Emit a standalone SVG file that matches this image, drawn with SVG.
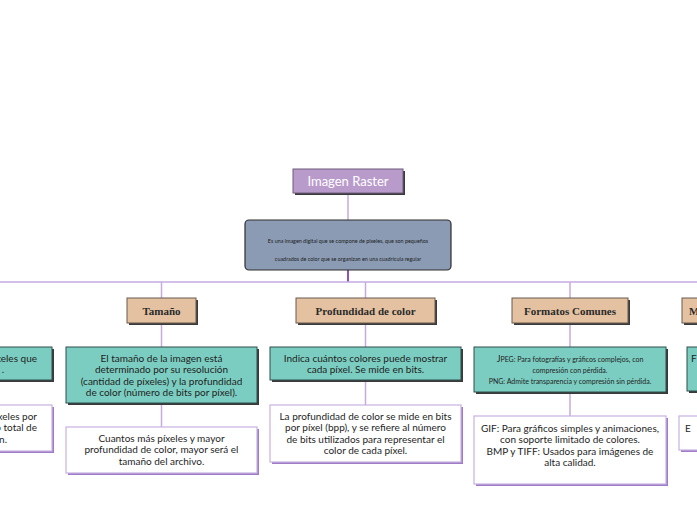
<svg xmlns="http://www.w3.org/2000/svg" width="697" height="520" viewBox="0 0 697 520">
<style>
.bg{fill:#ffffff}
.ln{stroke:#c5abe0;stroke-width:1.5;fill:none}
.trunk{stroke:#8c52bd;stroke-width:2;fill:none}
.sh{fill:#3a3a3a}
.wsh{fill:#9e7cc6}
.title{fill:#b99bcb;stroke:#6d5a7a;stroke-width:1}
.desc{fill:#8a9bb3;stroke:#2e2e2e;stroke-width:1.2}
.tan{fill:#e3c1a1;stroke:#6a5a4e;stroke-width:1}
.teal{fill:#7ccdc1;stroke:#2f4f4a;stroke-width:1}
.wht{fill:#ffffff;stroke:#c8b2e2;stroke-width:1.2}
.tt{font-family:"Lato","Liberation Sans",sans-serif;font-size:13px;fill:#ffffff;text-anchor:middle}
.dt{font-family:"Lato","Liberation Sans",sans-serif;font-size:5.4px;fill:#1e1e1e;text-anchor:middle}
.ht{font-family:"Liberation Serif","DejaVu Serif",serif;font-weight:bold;font-size:11px;fill:#2a2a2a;text-anchor:middle}
.bt{font-family:"Lato","Liberation Sans",sans-serif;font-size:10px;fill:#1e1e1e;text-anchor:middle}
.st{font-family:"Lato","Liberation Sans",sans-serif;font-size:7px;fill:#1e1e1e;text-anchor:middle}
.end{text-anchor:end}
.start{text-anchor:start}
</style>
<rect class="bg" x="0" y="0" width="697" height="520"/>
<g id="connectors">
<line class="ln" x1="348" y1="193" x2="348" y2="220"/>
<line class="trunk" x1="348" y1="270" x2="348" y2="282"/>
<line class="ln" x1="0" y1="282" x2="697" y2="282"/>
<line class="ln" x1="161.5" y1="282" x2="161.5" y2="298"/>
<line class="ln" x1="365.5" y1="282" x2="365.5" y2="298"/>
<line class="ln" x1="570" y1="282" x2="570" y2="298"/>
<line class="ln" x1="161.5" y1="323" x2="161.5" y2="347"/>
<line class="ln" x1="161.5" y1="403" x2="161.5" y2="427"/>
<line class="ln" x1="365.5" y1="323" x2="365.5" y2="347"/>
<line class="ln" x1="365.5" y1="380" x2="365.5" y2="405"/>
<line class="ln" x1="570" y1="323" x2="570" y2="347"/>
<line class="ln" x1="570" y1="392" x2="570" y2="416"/>
</g>
<g id="title">
<rect class="sh" x="295" y="171" width="110" height="24"/>
<rect class="title" x="293" y="169" width="110" height="24"/>
<text class="tt" x="348" y="186">Imagen Raster</text>
</g>
<g id="description">
<rect class="desc" x="245" y="220" width="206" height="50" rx="4"/>
<text class="dt" x="348" y="243">Es una imagen digital que se compone de pixeles, que son pequeños</text>
<text class="dt" x="348" y="261">cuadrados de color que se organizan en una cuadrícula regular</text>
</g>
<g id="left-teal">
<rect class="sh" x="-137" y="349" width="191" height="33"/>
<rect class="teal" x="-139" y="347" width="191" height="33"/>
<text class="bt end" x="37" y="361.5">xeles que</text>
<text class="bt end" x="4" y="373">.</text>
</g>
<g id="left-white">
<rect class="wsh" x="-137" y="407" width="191" height="46"/>
<rect class="wht" x="-139" y="405" width="191" height="46"/>
<text class="bt end" x="37" y="419.5">xeles por</text>
<text class="bt end" x="37" y="431">o total de</text>
<text class="bt end" x="7" y="442.5">n.</text>
</g>
<g id="tamano">
<rect class="sh" x="129" y="300" width="69" height="25"/>
<rect class="tan" x="127" y="298" width="69" height="25"/>
<text class="ht" x="161.5" y="314.5">Tamaño</text>
</g>
<g id="tamano-def">
<rect class="sh" x="68" y="349" width="191" height="56"/>
<rect class="teal" x="66" y="347" width="191" height="56"/>
<text class="bt" x="161.5" y="361.5">El tamaño de la imagen está</text>
<text class="bt" x="161.5" y="373">determinado por su resolución</text>
<text class="bt" x="161.5" y="384.5">(cantidad de píxeles) y la profundidad</text>
<text class="bt" x="161.5" y="396">de color (número de bits por píxel).</text>
</g>
<g id="tamano-note">
<rect class="wsh" x="68" y="429" width="191" height="46"/>
<rect class="wht" x="66" y="427" width="191" height="46"/>
<text class="bt" x="161.5" y="441.5">Cuantos más píxeles y mayor</text>
<text class="bt" x="161.5" y="453">profundidad de color, mayor será el</text>
<text class="bt" x="161.5" y="464.5">tamaño del archivo.</text>
</g>
<g id="profundidad">
<rect class="sh" x="298" y="300" width="139" height="25"/>
<rect class="tan" x="296" y="298" width="139" height="25"/>
<text class="ht" x="365.5" y="314.5">Profundidad de color</text>
</g>
<g id="profundidad-def">
<rect class="sh" x="272" y="349" width="191" height="33"/>
<rect class="teal" x="270" y="347" width="191" height="33"/>
<text class="bt" x="365.5" y="361.5">Indica cuántos colores puede mostrar</text>
<text class="bt" x="365.5" y="373">cada píxel. Se mide en bits.</text>
</g>
<g id="profundidad-note">
<rect class="wsh" x="272" y="407" width="191" height="57"/>
<rect class="wht" x="270" y="405" width="191" height="57"/>
<text class="bt" x="365.5" y="419.5">La profundidad de color se mide en bits</text>
<text class="bt" x="365.5" y="431">por píxel (bpp), y se refiere al número</text>
<text class="bt" x="365.5" y="442.5">de bits utilizados para representar el</text>
<text class="bt" x="365.5" y="454">color de cada píxel.</text>
</g>
<g id="formatos">
<rect class="sh" x="514" y="300" width="116" height="25"/>
<rect class="tan" x="512" y="298" width="116" height="25"/>
<text class="ht" x="570" y="314.5">Formatos Comunes</text>
</g>
<g id="formatos-def">
<rect class="sh" x="476" y="349" width="192" height="45"/>
<rect class="teal" x="474" y="347" width="192" height="45"/>
<text class="st" x="570" y="361.5"><tspan font-size="9">J</tspan>PEG: Para fotografías y gráficos complejos, con</text>
<text class="st" x="570" y="372.5">compresión con pérdida.</text>
<text class="st" x="570" y="383.5">PNG: Admite transparencia y compresión sin pérdida.</text>
</g>
<g id="formatos-note">
<rect class="wsh" x="476" y="418" width="192" height="68"/>
<rect class="wht" x="474" y="416" width="192" height="68"/>
<text class="bt" x="570" y="431.5">GIF: Para gráficos simples y animaciones,</text>
<text class="bt" x="570" y="443">con soporte limitado de colores.</text>
<text class="bt" x="570" y="454.5">BMP y TIFF: Usados para imágenes de</text>
<text class="bt" x="570" y="466">alta calidad.</text>
</g>
<g id="right-tan">
<rect class="sh" x="684" y="300" width="40" height="25"/>
<rect class="tan" x="682" y="298" width="40" height="25"/>
<text class="ht start" x="689" y="314.5">M</text>
</g>
<g id="right-teal">
<rect class="sh" x="689" y="349" width="40" height="44"/>
<rect class="teal" x="687" y="347" width="40" height="44"/>
<text class="bt start" x="691" y="361.5">F</text>
</g>
<g id="right-white">
<rect class="wsh" x="681" y="418" width="40" height="34"/>
<rect class="wht" x="679" y="416" width="40" height="34"/>
<text class="bt start" x="685" y="431.5">E</text>
</g>
</svg>
